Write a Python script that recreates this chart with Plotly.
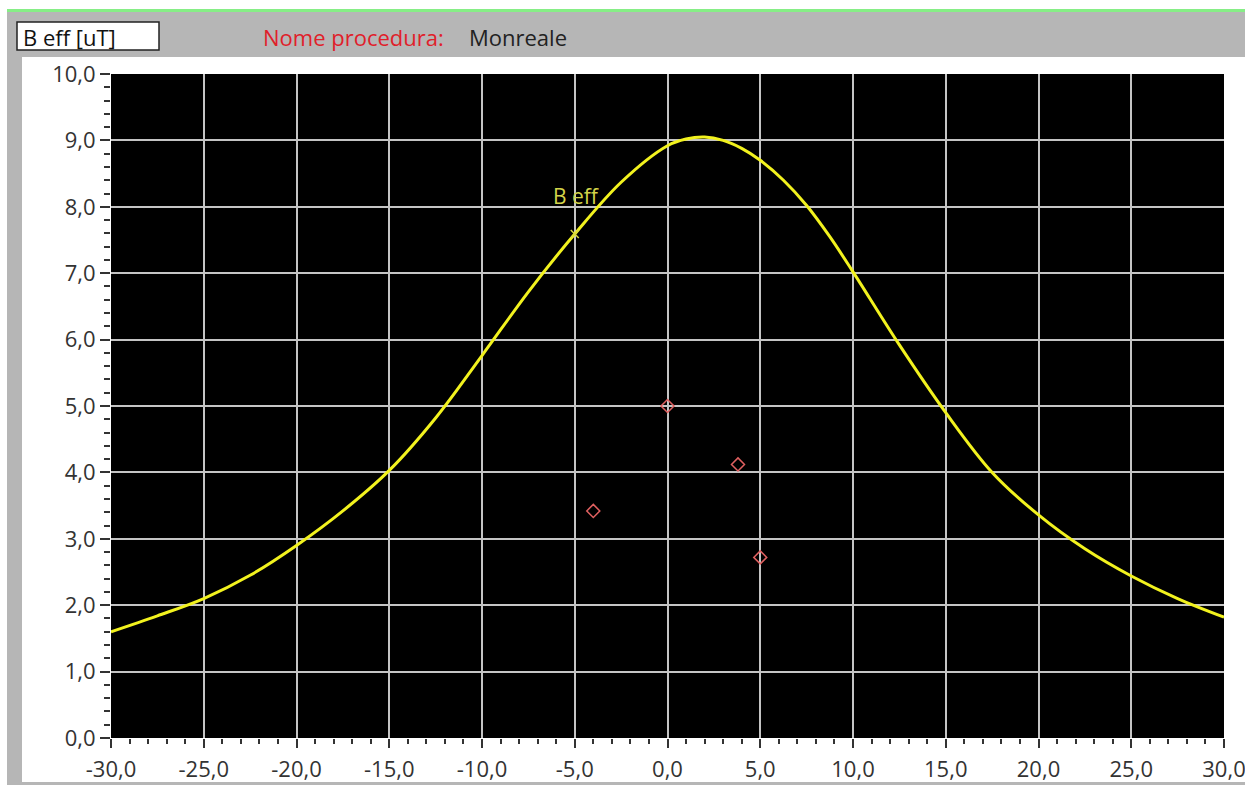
import plotly.graph_objects as go

# ---- data ----
pos_x = [-30, -27.5, -25, -22.5, -20, -17.5, -15, -12.5, -10, -7.5, -5, -2.5,
         0, 1, 2, 3, 4, 5, 6.25, 7.5, 8.75, 10, 12.5, 15, 17.5, 20, 22.5, 25, 27.5, 30]
b_eff = [1.60, 1.84, 2.10, 2.45, 2.90, 3.42, 4.03, 4.82, 5.76, 6.72, 7.59, 8.37,
         8.92, 9.02, 9.05, 9.00, 8.88, 8.70, 8.40, 8.02, 7.55, 7.02, 5.92, 4.90,
         4.00, 3.36, 2.85, 2.44, 2.10, 1.82]

meas_x = [0.0, -4.0, 3.8, 5.0]
meas_y = [5.0, 3.42, 4.12, 2.72]

cursor_x = [-5.0]
cursor_y = [7.59]
cursor_label = "B eff"

x_tick_vals = [-30, -25, -20, -15, -10, -5, 0, 5, 10, 15, 20, 25, 30]
x_tick_text = ["-30,0", "-25,0", "-20,0", "-15,0", "-10,0", "-5,0", "0,0",
               "5,0", "10,0", "15,0", "20,0", "25,0", "30,0"]
y_tick_vals = [0, 1, 2, 3, 4, 5, 6, 7, 8, 9, 10]
y_tick_text = ["0,0", "1,0", "2,0", "3,0", "4,0", "5,0", "6,0", "7,0", "8,0", "9,0", "10,0"]

unit_label = "B eff [uT]"
proc_label = "Nome procedura:"
proc_name = "Monreale"

# ---- layout geometry (pixels) ----
L, R, T, B = 111, 21, 74, 47
FONT = "Open Sans"
GRAY = "#b6b6b6"

fig = go.Figure()

fig.add_trace(go.Scatter(
    x=pos_x, y=b_eff, mode="lines",
    line=dict(color="#f2f21e", width=3, shape="spline", smoothing=1.0),
    hoverinfo="skip", showlegend=False))

fig.add_trace(go.Scatter(
    x=meas_x, y=meas_y, mode="markers",
    marker=dict(symbol="diamond-open", size=10, color="#e06060",
                line=dict(color="#e06060", width=1.5)),
    showlegend=False))

fig.add_trace(go.Scatter(
    x=cursor_x, y=cursor_y, mode="markers",
    marker=dict(symbol="x-thin-open", size=8, color="#d8d840",
                line=dict(color="#d8d840", width=1.5)),
    showlegend=False))

fig.add_annotation(x=cursor_x[0], y=cursor_y[0], text=cursor_label,
                   showarrow=False, yshift=38, xshift=2,
                   font=dict(family=FONT, size=21, color="#d4d44a"))


def prect(x0, x1, y0, y1, xanchor, yanchor, **kw):
    """rectangle given in pixel offsets from a plot-area anchor (y positive up)"""
    d = dict(type="rect", xref="paper", yref="paper",
             xsizemode="pixel", ysizemode="pixel",
             xanchor=xanchor, yanchor=yanchor,
             x0=x0, x1=x1, y0=y0, y1=y1, layer="below")
    d.update(kw)
    return d

shapes = [
    # green top line (page y 9..12)
    prect(7 - L, 3000, T - 12, T - 9, 0, 1, fillcolor="#86ee86", line=dict(width=0)),
    # header gray (page y 12..57)
    prect(7 - L, 3000, T - 57, T - 12, 0, 1, fillcolor=GRAY, line=dict(width=0)),
    # left strip
    prect(7 - L, 22 - L, -3000, T - 12, 0, 1, fillcolor=GRAY, line=dict(width=0)),
    # bottom line (page y 782..785)
    prect(7 - L, 3000, -B, -(B - 3), 0, 0, fillcolor=GRAY, line=dict(width=0)),
    # unit box (page x 17..159, y 22..50)
    prect(17 - L, 159 - L, T - 50, T - 22, 0, 1, fillcolor="white",
          line=dict(color="#222222", width=1.5), layer="above"),
]

def header_text(xpix, text, color, size):
    return dict(xref="paper", yref="paper", x=0, y=1, xshift=xpix - L, yshift=T - 37,
                text=text, showarrow=False, xanchor="left", yanchor="middle",
                font=dict(family=FONT, size=size, color=color))

for a in [header_text(21, unit_label, "#111111", 22),
          header_text(261, proc_label, "#e0202a", 22),
          header_text(467, proc_name, "#222222", 22)]:
    fig.add_annotation(**a)

fig.update_layout(
    autosize=True,
    margin=dict(l=L, r=R, t=T, b=B, pad=0, autoexpand=False),
    paper_bgcolor="white", plot_bgcolor="black",
    shapes=shapes,
    font=dict(family=FONT, size=22, color="#333333"),
    showlegend=False,
)

fig.update_xaxes(
    range=[-30, 30], tickmode="array", tickvals=x_tick_vals, ticktext=x_tick_text,
    showgrid=True, gridcolor="#c4c4c4", gridwidth=2, zeroline=False,
    ticks="outside", ticklen=9, tickwidth=2, tickcolor="#333333",
    minor=dict(tickmode="linear", tick0=0, dtick=1, ticks="outside", ticklen=5,
               tickwidth=2, tickcolor="#333333", showgrid=False),
    showline=False, ticklabeloverflow="allow", automargin=False,
    ticklabelstandoff=3,
    tickfont=dict(family=FONT, size=22, color="#333333"),
)
fig.update_yaxes(
    range=[0, 10], tickmode="array", tickvals=y_tick_vals, ticktext=y_tick_text,
    showgrid=True, gridcolor="#c4c4c4", gridwidth=2, zeroline=False,
    ticks="outside", ticklen=10, tickwidth=2, tickcolor="#333333",
    minor=dict(tickmode="linear", tick0=0, dtick=0.2, ticks="outside", ticklen=6,
               tickwidth=2, tickcolor="#333333", showgrid=False),
    showline=False, ticklabeloverflow="allow", automargin=False,
    tickfont=dict(family=FONT, size=22, color="#333333"),
)

post = ("document.documentElement.style.margin='0';"
        "document.documentElement.style.overflow='hidden';"
        "document.body.style.margin='0';"
        "document.body.style.overflow='hidden';")

fig.write_html("out.html", default_width="100vw", default_height="100vh",
               config={"displayModeBar": False, "responsive": True},
               post_script=post)
